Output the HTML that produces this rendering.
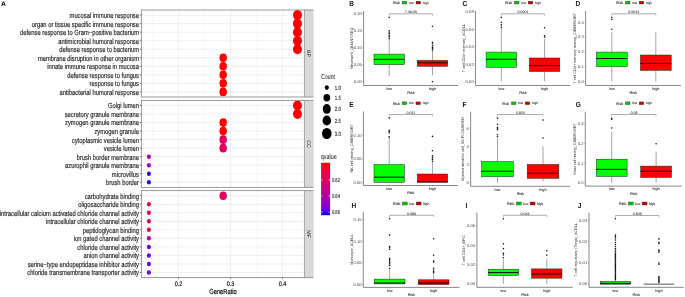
<!DOCTYPE html>
<html><head><meta charset="utf-8"><title>Figure</title>
<style>html,body{margin:0;padding:0;background:#fff;width:685px;height:297px;overflow:hidden}svg{display:block}</style>
</head><body>
<svg width="685" height="297" viewBox="0 0 685 297" text-rendering="geometricPrecision"><g font-family="'Liberation Sans', sans-serif">
<text transform="translate(0.90,6.00) scale(0.1050,0.1000)" font-size="64.00" fill="#000" font-weight="bold">A</text>
<rect x="141.40" y="10.00" width="163.00" height="87.00" fill="#FFFFFF"/>
<line x1="152.60" y1="10.00" x2="152.60" y2="97.00" stroke="#F2F2F2" stroke-width="0.50"/>
<line x1="204.60" y1="10.00" x2="204.60" y2="97.00" stroke="#F2F2F2" stroke-width="0.50"/>
<line x1="256.60" y1="10.00" x2="256.60" y2="97.00" stroke="#F2F2F2" stroke-width="0.50"/>
<line x1="178.60" y1="10.00" x2="178.60" y2="97.00" stroke="#EBEBEB" stroke-width="0.80"/>
<line x1="230.60" y1="10.00" x2="230.60" y2="97.00" stroke="#EBEBEB" stroke-width="0.80"/>
<line x1="282.60" y1="10.00" x2="282.60" y2="97.00" stroke="#EBEBEB" stroke-width="0.80"/>
<line x1="141.40" y1="15.12" x2="304.40" y2="15.12" stroke="#EBEBEB" stroke-width="0.80"/>
<line x1="141.40" y1="23.65" x2="304.40" y2="23.65" stroke="#EBEBEB" stroke-width="0.80"/>
<line x1="141.40" y1="32.18" x2="304.40" y2="32.18" stroke="#EBEBEB" stroke-width="0.80"/>
<line x1="141.40" y1="40.71" x2="304.40" y2="40.71" stroke="#EBEBEB" stroke-width="0.80"/>
<line x1="141.40" y1="49.24" x2="304.40" y2="49.24" stroke="#EBEBEB" stroke-width="0.80"/>
<line x1="141.40" y1="57.76" x2="304.40" y2="57.76" stroke="#EBEBEB" stroke-width="0.80"/>
<line x1="141.40" y1="66.29" x2="304.40" y2="66.29" stroke="#EBEBEB" stroke-width="0.80"/>
<line x1="141.40" y1="74.82" x2="304.40" y2="74.82" stroke="#EBEBEB" stroke-width="0.80"/>
<line x1="141.40" y1="83.35" x2="304.40" y2="83.35" stroke="#EBEBEB" stroke-width="0.80"/>
<line x1="141.40" y1="91.88" x2="304.40" y2="91.88" stroke="#EBEBEB" stroke-width="0.80"/>
<ellipse cx="297.46" cy="15.12" rx="4.50" ry="5.00" fill="#FF0000"/>
<ellipse cx="297.46" cy="23.65" rx="4.50" ry="5.00" fill="#FF0000"/>
<ellipse cx="297.46" cy="32.18" rx="4.50" ry="5.00" fill="#FF0000"/>
<ellipse cx="297.46" cy="40.71" rx="4.50" ry="5.00" fill="#FF0000"/>
<ellipse cx="297.46" cy="49.24" rx="4.50" ry="5.00" fill="#FF0000"/>
<ellipse cx="223.17" cy="57.76" rx="3.70" ry="4.30" fill="#FF0000"/>
<ellipse cx="223.17" cy="66.29" rx="3.70" ry="4.30" fill="#FF0000"/>
<ellipse cx="223.17" cy="74.82" rx="3.70" ry="4.30" fill="#FF0000"/>
<ellipse cx="223.17" cy="83.35" rx="3.70" ry="4.30" fill="#FF0000"/>
<ellipse cx="223.17" cy="91.88" rx="3.70" ry="4.30" fill="#FF0000"/>
<rect x="141.40" y="10.00" width="163.00" height="87.00" fill="none" stroke="#909090" stroke-width="0.9"/>
<rect x="304.85" y="9.55" width="8.60" height="87.90" fill="#D9D9D9"/>
<line x1="313.40" y1="9.55" x2="313.40" y2="97.45" stroke="#E2E2E2" stroke-width="0.60"/>
<line x1="304.40" y1="10.00" x2="313.40" y2="10.00" stroke="#909090" stroke-width="0.90"/>
<line x1="304.40" y1="97.00" x2="313.40" y2="97.00" stroke="#909090" stroke-width="0.90"/>
<text transform="translate(307.40,53.50) scale(0.1000,0.1000) rotate(90)" font-size="52.00" fill="#1A1A1A" text-anchor="middle">BP</text>
<line x1="139.80" y1="15.12" x2="141.40" y2="15.12" stroke="#333" stroke-width="0.60"/>
<text transform="translate(139.00,18.02) scale(0.0775,0.1000)" font-size="75.00" fill="#262626" text-anchor="end" stroke="#262626" stroke-width="1.80">mucosal immune response</text>
<line x1="139.80" y1="23.65" x2="141.40" y2="23.65" stroke="#333" stroke-width="0.60"/>
<text transform="translate(139.00,26.55) scale(0.0775,0.1000)" font-size="75.00" fill="#262626" text-anchor="end" stroke="#262626" stroke-width="1.80">organ or tissue specific immune response</text>
<line x1="139.80" y1="32.18" x2="141.40" y2="32.18" stroke="#333" stroke-width="0.60"/>
<text transform="translate(139.00,35.08) scale(0.0775,0.1000)" font-size="75.00" fill="#262626" text-anchor="end" stroke="#262626" stroke-width="1.80">defense response to Gram−positive bacterium</text>
<line x1="139.80" y1="40.71" x2="141.40" y2="40.71" stroke="#333" stroke-width="0.60"/>
<text transform="translate(139.00,43.61) scale(0.0775,0.1000)" font-size="75.00" fill="#262626" text-anchor="end" stroke="#262626" stroke-width="1.80">antimicrobial humoral response</text>
<line x1="139.80" y1="49.24" x2="141.40" y2="49.24" stroke="#333" stroke-width="0.60"/>
<text transform="translate(139.00,52.14) scale(0.0775,0.1000)" font-size="75.00" fill="#262626" text-anchor="end" stroke="#262626" stroke-width="1.80">defense response to bacterium</text>
<line x1="139.80" y1="57.76" x2="141.40" y2="57.76" stroke="#333" stroke-width="0.60"/>
<text transform="translate(139.00,60.66) scale(0.0775,0.1000)" font-size="75.00" fill="#262626" text-anchor="end" stroke="#262626" stroke-width="1.80">membrane disruption in other organism</text>
<line x1="139.80" y1="66.29" x2="141.40" y2="66.29" stroke="#333" stroke-width="0.60"/>
<text transform="translate(139.00,69.19) scale(0.0775,0.1000)" font-size="75.00" fill="#262626" text-anchor="end" stroke="#262626" stroke-width="1.80">innate immune response in mucosa</text>
<line x1="139.80" y1="74.82" x2="141.40" y2="74.82" stroke="#333" stroke-width="0.60"/>
<text transform="translate(139.00,77.72) scale(0.0775,0.1000)" font-size="75.00" fill="#262626" text-anchor="end" stroke="#262626" stroke-width="1.80">defense response to fungus</text>
<line x1="139.80" y1="83.35" x2="141.40" y2="83.35" stroke="#333" stroke-width="0.60"/>
<text transform="translate(139.00,86.25) scale(0.0775,0.1000)" font-size="75.00" fill="#262626" text-anchor="end" stroke="#262626" stroke-width="1.80">response to fungus</text>
<line x1="139.80" y1="91.88" x2="141.40" y2="91.88" stroke="#333" stroke-width="0.60"/>
<text transform="translate(139.00,94.78) scale(0.0775,0.1000)" font-size="75.00" fill="#262626" text-anchor="end" stroke="#262626" stroke-width="1.80">antibacterial humoral response</text>
<rect x="141.40" y="100.40" width="163.00" height="87.00" fill="#FFFFFF"/>
<line x1="152.60" y1="100.40" x2="152.60" y2="187.40" stroke="#F2F2F2" stroke-width="0.50"/>
<line x1="204.60" y1="100.40" x2="204.60" y2="187.40" stroke="#F2F2F2" stroke-width="0.50"/>
<line x1="256.60" y1="100.40" x2="256.60" y2="187.40" stroke="#F2F2F2" stroke-width="0.50"/>
<line x1="178.60" y1="100.40" x2="178.60" y2="187.40" stroke="#EBEBEB" stroke-width="0.80"/>
<line x1="230.60" y1="100.40" x2="230.60" y2="187.40" stroke="#EBEBEB" stroke-width="0.80"/>
<line x1="282.60" y1="100.40" x2="282.60" y2="187.40" stroke="#EBEBEB" stroke-width="0.80"/>
<line x1="141.40" y1="105.52" x2="304.40" y2="105.52" stroke="#EBEBEB" stroke-width="0.80"/>
<line x1="141.40" y1="114.05" x2="304.40" y2="114.05" stroke="#EBEBEB" stroke-width="0.80"/>
<line x1="141.40" y1="122.58" x2="304.40" y2="122.58" stroke="#EBEBEB" stroke-width="0.80"/>
<line x1="141.40" y1="131.11" x2="304.40" y2="131.11" stroke="#EBEBEB" stroke-width="0.80"/>
<line x1="141.40" y1="139.64" x2="304.40" y2="139.64" stroke="#EBEBEB" stroke-width="0.80"/>
<line x1="141.40" y1="148.16" x2="304.40" y2="148.16" stroke="#EBEBEB" stroke-width="0.80"/>
<line x1="141.40" y1="156.69" x2="304.40" y2="156.69" stroke="#EBEBEB" stroke-width="0.80"/>
<line x1="141.40" y1="165.22" x2="304.40" y2="165.22" stroke="#EBEBEB" stroke-width="0.80"/>
<line x1="141.40" y1="173.75" x2="304.40" y2="173.75" stroke="#EBEBEB" stroke-width="0.80"/>
<line x1="141.40" y1="182.28" x2="304.40" y2="182.28" stroke="#EBEBEB" stroke-width="0.80"/>
<ellipse cx="297.46" cy="105.52" rx="4.50" ry="5.00" fill="#FF0000"/>
<ellipse cx="297.46" cy="114.05" rx="4.50" ry="5.00" fill="#FF0000"/>
<ellipse cx="223.17" cy="122.58" rx="3.70" ry="4.30" fill="#FF0000"/>
<ellipse cx="223.17" cy="131.11" rx="3.70" ry="4.30" fill="#FF0000"/>
<ellipse cx="223.17" cy="139.64" rx="3.70" ry="4.30" fill="#E3005B"/>
<ellipse cx="223.17" cy="148.16" rx="3.70" ry="4.30" fill="#E3005B"/>
<ellipse cx="148.89" cy="156.69" rx="2.00" ry="2.25" fill="#A600B7"/>
<ellipse cx="148.89" cy="165.22" rx="2.00" ry="2.25" fill="#A600B7"/>
<ellipse cx="148.89" cy="173.75" rx="2.00" ry="2.25" fill="#2F00FA"/>
<ellipse cx="148.89" cy="182.28" rx="2.00" ry="2.25" fill="#2F00FA"/>
<rect x="141.40" y="100.40" width="163.00" height="87.00" fill="none" stroke="#909090" stroke-width="0.9"/>
<rect x="304.85" y="99.95" width="8.60" height="87.90" fill="#D9D9D9"/>
<line x1="313.40" y1="99.95" x2="313.40" y2="187.85" stroke="#E2E2E2" stroke-width="0.60"/>
<line x1="304.40" y1="100.40" x2="313.40" y2="100.40" stroke="#909090" stroke-width="0.90"/>
<line x1="304.40" y1="187.40" x2="313.40" y2="187.40" stroke="#909090" stroke-width="0.90"/>
<text transform="translate(307.40,143.90) scale(0.1000,0.1000) rotate(90)" font-size="52.00" fill="#1A1A1A" text-anchor="middle">CC</text>
<line x1="139.80" y1="105.52" x2="141.40" y2="105.52" stroke="#333" stroke-width="0.60"/>
<text transform="translate(139.00,108.42) scale(0.0775,0.1000)" font-size="75.00" fill="#262626" text-anchor="end" stroke="#262626" stroke-width="1.80">Golgi lumen</text>
<line x1="139.80" y1="114.05" x2="141.40" y2="114.05" stroke="#333" stroke-width="0.60"/>
<text transform="translate(139.00,116.95) scale(0.0775,0.1000)" font-size="75.00" fill="#262626" text-anchor="end" stroke="#262626" stroke-width="1.80">secretory granule membrane</text>
<line x1="139.80" y1="122.58" x2="141.40" y2="122.58" stroke="#333" stroke-width="0.60"/>
<text transform="translate(139.00,125.48) scale(0.0775,0.1000)" font-size="75.00" fill="#262626" text-anchor="end" stroke="#262626" stroke-width="1.80">zymogen granule membrane</text>
<line x1="139.80" y1="131.11" x2="141.40" y2="131.11" stroke="#333" stroke-width="0.60"/>
<text transform="translate(139.00,134.01) scale(0.0775,0.1000)" font-size="75.00" fill="#262626" text-anchor="end" stroke="#262626" stroke-width="1.80">zymogen granule</text>
<line x1="139.80" y1="139.64" x2="141.40" y2="139.64" stroke="#333" stroke-width="0.60"/>
<text transform="translate(139.00,142.54) scale(0.0775,0.1000)" font-size="75.00" fill="#262626" text-anchor="end" stroke="#262626" stroke-width="1.80">cytoplasmic vesicle lumen</text>
<line x1="139.80" y1="148.16" x2="141.40" y2="148.16" stroke="#333" stroke-width="0.60"/>
<text transform="translate(139.00,151.06) scale(0.0775,0.1000)" font-size="75.00" fill="#262626" text-anchor="end" stroke="#262626" stroke-width="1.80">vesicle lumen</text>
<line x1="139.80" y1="156.69" x2="141.40" y2="156.69" stroke="#333" stroke-width="0.60"/>
<text transform="translate(139.00,159.59) scale(0.0775,0.1000)" font-size="75.00" fill="#262626" text-anchor="end" stroke="#262626" stroke-width="1.80">brush border membrane</text>
<line x1="139.80" y1="165.22" x2="141.40" y2="165.22" stroke="#333" stroke-width="0.60"/>
<text transform="translate(139.00,168.12) scale(0.0775,0.1000)" font-size="75.00" fill="#262626" text-anchor="end" stroke="#262626" stroke-width="1.80">azurophil granule membrane</text>
<line x1="139.80" y1="173.75" x2="141.40" y2="173.75" stroke="#333" stroke-width="0.60"/>
<text transform="translate(139.00,176.65) scale(0.0775,0.1000)" font-size="75.00" fill="#262626" text-anchor="end" stroke="#262626" stroke-width="1.80">microvillus</text>
<line x1="139.80" y1="182.28" x2="141.40" y2="182.28" stroke="#333" stroke-width="0.60"/>
<text transform="translate(139.00,185.18) scale(0.0775,0.1000)" font-size="75.00" fill="#262626" text-anchor="end" stroke="#262626" stroke-width="1.80">brush border</text>
<rect x="141.40" y="190.60" width="163.00" height="87.00" fill="#FFFFFF"/>
<line x1="152.60" y1="190.60" x2="152.60" y2="277.60" stroke="#F2F2F2" stroke-width="0.50"/>
<line x1="204.60" y1="190.60" x2="204.60" y2="277.60" stroke="#F2F2F2" stroke-width="0.50"/>
<line x1="256.60" y1="190.60" x2="256.60" y2="277.60" stroke="#F2F2F2" stroke-width="0.50"/>
<line x1="178.60" y1="190.60" x2="178.60" y2="277.60" stroke="#EBEBEB" stroke-width="0.80"/>
<line x1="230.60" y1="190.60" x2="230.60" y2="277.60" stroke="#EBEBEB" stroke-width="0.80"/>
<line x1="282.60" y1="190.60" x2="282.60" y2="277.60" stroke="#EBEBEB" stroke-width="0.80"/>
<line x1="141.40" y1="195.72" x2="304.40" y2="195.72" stroke="#EBEBEB" stroke-width="0.80"/>
<line x1="141.40" y1="204.25" x2="304.40" y2="204.25" stroke="#EBEBEB" stroke-width="0.80"/>
<line x1="141.40" y1="212.78" x2="304.40" y2="212.78" stroke="#EBEBEB" stroke-width="0.80"/>
<line x1="141.40" y1="221.31" x2="304.40" y2="221.31" stroke="#EBEBEB" stroke-width="0.80"/>
<line x1="141.40" y1="229.84" x2="304.40" y2="229.84" stroke="#EBEBEB" stroke-width="0.80"/>
<line x1="141.40" y1="238.36" x2="304.40" y2="238.36" stroke="#EBEBEB" stroke-width="0.80"/>
<line x1="141.40" y1="246.89" x2="304.40" y2="246.89" stroke="#EBEBEB" stroke-width="0.80"/>
<line x1="141.40" y1="255.42" x2="304.40" y2="255.42" stroke="#EBEBEB" stroke-width="0.80"/>
<line x1="141.40" y1="263.95" x2="304.40" y2="263.95" stroke="#EBEBEB" stroke-width="0.80"/>
<line x1="141.40" y1="272.48" x2="304.40" y2="272.48" stroke="#EBEBEB" stroke-width="0.80"/>
<ellipse cx="223.17" cy="195.72" rx="3.70" ry="4.30" fill="#E3005B"/>
<ellipse cx="148.89" cy="204.25" rx="2.00" ry="2.25" fill="#E3005B"/>
<ellipse cx="148.89" cy="212.78" rx="2.00" ry="2.25" fill="#E3005B"/>
<ellipse cx="148.89" cy="221.31" rx="2.00" ry="2.25" fill="#E3005B"/>
<ellipse cx="148.89" cy="229.84" rx="2.00" ry="2.25" fill="#E3005B"/>
<ellipse cx="148.89" cy="238.36" rx="2.00" ry="2.25" fill="#B600A4"/>
<ellipse cx="148.89" cy="246.89" rx="2.00" ry="2.25" fill="#6800E7"/>
<ellipse cx="148.89" cy="255.42" rx="2.00" ry="2.25" fill="#6800E7"/>
<ellipse cx="148.89" cy="263.95" rx="2.00" ry="2.25" fill="#6800E7"/>
<ellipse cx="148.89" cy="272.48" rx="2.00" ry="2.25" fill="#6800E7"/>
<rect x="141.40" y="190.60" width="163.00" height="87.00" fill="none" stroke="#909090" stroke-width="0.9"/>
<rect x="304.85" y="190.15" width="8.60" height="87.90" fill="#D9D9D9"/>
<line x1="313.40" y1="190.15" x2="313.40" y2="278.05" stroke="#E2E2E2" stroke-width="0.60"/>
<line x1="304.40" y1="190.60" x2="313.40" y2="190.60" stroke="#909090" stroke-width="0.90"/>
<line x1="304.40" y1="277.60" x2="313.40" y2="277.60" stroke="#909090" stroke-width="0.90"/>
<text transform="translate(307.40,234.10) scale(0.1000,0.1000) rotate(90)" font-size="52.00" fill="#1A1A1A" text-anchor="middle">MF</text>
<line x1="139.80" y1="195.72" x2="141.40" y2="195.72" stroke="#333" stroke-width="0.60"/>
<text transform="translate(139.00,198.62) scale(0.0775,0.1000)" font-size="75.00" fill="#262626" text-anchor="end" stroke="#262626" stroke-width="1.80">carbohydrate binding</text>
<line x1="139.80" y1="204.25" x2="141.40" y2="204.25" stroke="#333" stroke-width="0.60"/>
<text transform="translate(139.00,207.15) scale(0.0775,0.1000)" font-size="75.00" fill="#262626" text-anchor="end" stroke="#262626" stroke-width="1.80">oligosaccharide binding</text>
<line x1="139.80" y1="212.78" x2="141.40" y2="212.78" stroke="#333" stroke-width="0.60"/>
<text transform="translate(139.00,215.68) scale(0.0775,0.1000)" font-size="75.00" fill="#262626" text-anchor="end" stroke="#262626" stroke-width="1.80">intracellular calcium activated chloride channel activity</text>
<line x1="139.80" y1="221.31" x2="141.40" y2="221.31" stroke="#333" stroke-width="0.60"/>
<text transform="translate(139.00,224.21) scale(0.0775,0.1000)" font-size="75.00" fill="#262626" text-anchor="end" stroke="#262626" stroke-width="1.80">intracellular chloride channel activity</text>
<line x1="139.80" y1="229.84" x2="141.40" y2="229.84" stroke="#333" stroke-width="0.60"/>
<text transform="translate(139.00,232.74) scale(0.0775,0.1000)" font-size="75.00" fill="#262626" text-anchor="end" stroke="#262626" stroke-width="1.80">peptidoglycan binding</text>
<line x1="139.80" y1="238.36" x2="141.40" y2="238.36" stroke="#333" stroke-width="0.60"/>
<text transform="translate(139.00,241.26) scale(0.0775,0.1000)" font-size="75.00" fill="#262626" text-anchor="end" stroke="#262626" stroke-width="1.80">ion gated channel activity</text>
<line x1="139.80" y1="246.89" x2="141.40" y2="246.89" stroke="#333" stroke-width="0.60"/>
<text transform="translate(139.00,249.79) scale(0.0775,0.1000)" font-size="75.00" fill="#262626" text-anchor="end" stroke="#262626" stroke-width="1.80">chloride channel activity</text>
<line x1="139.80" y1="255.42" x2="141.40" y2="255.42" stroke="#333" stroke-width="0.60"/>
<text transform="translate(139.00,258.32) scale(0.0775,0.1000)" font-size="75.00" fill="#262626" text-anchor="end" stroke="#262626" stroke-width="1.80">anion channel activity</text>
<line x1="139.80" y1="263.95" x2="141.40" y2="263.95" stroke="#333" stroke-width="0.60"/>
<text transform="translate(139.00,266.85) scale(0.0775,0.1000)" font-size="75.00" fill="#262626" text-anchor="end" stroke="#262626" stroke-width="1.80">serine−type endopeptidase inhibitor activity</text>
<line x1="139.80" y1="272.48" x2="141.40" y2="272.48" stroke="#333" stroke-width="0.60"/>
<text transform="translate(139.00,275.38) scale(0.0775,0.1000)" font-size="75.00" fill="#262626" text-anchor="end" stroke="#262626" stroke-width="1.80">chloride transmembrane transporter activity</text>
<line x1="178.60" y1="277.60" x2="178.60" y2="279.20" stroke="#333" stroke-width="0.60"/>
<text transform="translate(178.60,286.20) scale(0.0840,0.1000)" font-size="66.00" fill="#222" text-anchor="middle" stroke="#222" stroke-width="2.20">0.2</text>
<line x1="230.60" y1="277.60" x2="230.60" y2="279.20" stroke="#333" stroke-width="0.60"/>
<text transform="translate(230.60,286.20) scale(0.0840,0.1000)" font-size="66.00" fill="#222" text-anchor="middle" stroke="#222" stroke-width="2.20">0.3</text>
<line x1="282.60" y1="277.60" x2="282.60" y2="279.20" stroke="#333" stroke-width="0.60"/>
<text transform="translate(282.60,286.20) scale(0.0840,0.1000)" font-size="66.00" fill="#222" text-anchor="middle" stroke="#222" stroke-width="2.20">0.4</text>
<text transform="translate(223.00,294.10) scale(0.0790,0.1000)" font-size="73.00" fill="#111" text-anchor="middle" stroke="#111" stroke-width="2.20">GeneRatio</text>
<text transform="translate(321.30,78.90) scale(0.0720,0.1000)" font-size="71.00" fill="#1A1A1A" stroke="#1A1A1A" stroke-width="0.40">Count</text>
<ellipse cx="326.80" cy="87.60" rx="2.05" ry="2.35" fill="#000"/>
<text transform="translate(334.80,89.75) scale(0.0740,0.1000)" font-size="60.00" fill="#262626" stroke="#262626" stroke-width="1.20">1.0</text>
<ellipse cx="326.80" cy="97.80" rx="3.35" ry="3.75" fill="#000"/>
<text transform="translate(334.80,99.95) scale(0.0740,0.1000)" font-size="60.00" fill="#262626" stroke="#262626" stroke-width="1.20">1.5</text>
<ellipse cx="326.80" cy="108.90" rx="4.00" ry="4.95" fill="#000"/>
<text transform="translate(334.80,111.05) scale(0.0740,0.1000)" font-size="60.00" fill="#262626" stroke="#262626" stroke-width="1.20">2.0</text>
<ellipse cx="326.80" cy="120.50" rx="4.25" ry="5.05" fill="#000"/>
<text transform="translate(334.80,122.65) scale(0.0740,0.1000)" font-size="60.00" fill="#262626" stroke="#262626" stroke-width="1.20">2.5</text>
<ellipse cx="326.80" cy="133.50" rx="4.75" ry="5.55" fill="#000"/>
<text transform="translate(334.80,135.65) scale(0.0740,0.1000)" font-size="60.00" fill="#262626" stroke="#262626" stroke-width="1.20">3.0</text>
<text transform="translate(320.80,158.90) scale(0.0760,0.1000)" font-size="71.00" fill="#1A1A1A" stroke="#1A1A1A" stroke-width="0.40">qvalue</text>
<defs><linearGradient id="qg" x1="0" y1="0" x2="0" y2="1"><stop offset="0.00" stop-color="#FF0000"/><stop offset="0.10" stop-color="#F6002A"/><stop offset="0.20" stop-color="#ED0044"/><stop offset="0.30" stop-color="#E3005B"/><stop offset="0.40" stop-color="#D70072"/><stop offset="0.50" stop-color="#CA0088"/><stop offset="0.60" stop-color="#BA009F"/><stop offset="0.70" stop-color="#A600B7"/><stop offset="0.80" stop-color="#8D00CE"/><stop offset="0.90" stop-color="#6800E7"/><stop offset="1.00" stop-color="#0000FF"/></linearGradient></defs>
<rect x="321.10" y="162.80" width="9.00" height="52.40" fill="url(#qg)"/>
<line x1="321.10" y1="179.80" x2="322.90" y2="179.80" stroke="#FFFFFF" stroke-width="0.50"/>
<line x1="328.30" y1="179.80" x2="330.10" y2="179.80" stroke="#FFFFFF" stroke-width="0.50"/>
<text transform="translate(331.90,181.90) scale(0.0700,0.1000)" font-size="59.00" fill="#262626" stroke="#262626" stroke-width="1.20">0.82</text>
<line x1="321.10" y1="195.90" x2="322.90" y2="195.90" stroke="#FFFFFF" stroke-width="0.50"/>
<line x1="328.30" y1="195.90" x2="330.10" y2="195.90" stroke="#FFFFFF" stroke-width="0.50"/>
<text transform="translate(331.90,198.00) scale(0.0700,0.1000)" font-size="59.00" fill="#262626" stroke="#262626" stroke-width="1.20">0.84</text>
<line x1="321.10" y1="212.10" x2="322.90" y2="212.10" stroke="#FFFFFF" stroke-width="0.50"/>
<line x1="328.30" y1="212.10" x2="330.10" y2="212.10" stroke="#FFFFFF" stroke-width="0.50"/>
<text transform="translate(331.90,214.20) scale(0.0700,0.1000)" font-size="59.00" fill="#262626" stroke="#262626" stroke-width="1.20">0.86</text>
</g>
<g font-family="'Liberation Sans', sans-serif">
<text transform="translate(349.30,6.10) scale(0.0900,0.1000)" font-size="73.00" fill="#111" font-weight="bold">B</text>
<text transform="translate(392.80,3.90) scale(0.0970,0.1000)" font-size="37.00" fill="#222" stroke="#222" stroke-width="0.70">Risk</text>
<rect x="402.20" y="1.20" width="4.60" height="2.80" fill="#00C800" stroke="#333" stroke-width="0.35"/>
<text transform="translate(409.20,3.70) scale(0.1000,0.1000)" font-size="31.00" fill="#222" stroke="#222" stroke-width="0.70">low</text>
<rect x="416.00" y="1.20" width="4.60" height="2.80" fill="#C80000" stroke="#333" stroke-width="0.35"/>
<text transform="translate(422.80,3.70) scale(0.1000,0.1000)" font-size="31.00" fill="#222" stroke="#222" stroke-width="0.70">high</text>
<text transform="translate(352.90,48.25) scale(0.1000,0.1000) rotate(-90)" font-size="37.50" fill="#222" text-anchor="middle">Neutrophil_QUANTISEQ</text>
<line x1="363.60" y1="11.00" x2="363.60" y2="85.50" stroke="#7A7A7A" stroke-width="0.90"/>
<line x1="363.60" y1="85.50" x2="458.20" y2="85.50" stroke="#7A7A7A" stroke-width="0.90"/>
<line x1="362.60" y1="81.60" x2="363.60" y2="81.60" stroke="#666" stroke-width="0.50"/>
<text transform="translate(361.80,83.10) scale(0.1000,0.1000)" font-size="41.50" fill="#444" text-anchor="end">0.00</text>
<line x1="362.60" y1="64.60" x2="363.60" y2="64.60" stroke="#666" stroke-width="0.50"/>
<text transform="translate(361.80,66.10) scale(0.1000,0.1000)" font-size="41.50" fill="#444" text-anchor="end">0.05</text>
<line x1="362.60" y1="47.60" x2="363.60" y2="47.60" stroke="#666" stroke-width="0.50"/>
<text transform="translate(361.80,49.10) scale(0.1000,0.1000)" font-size="41.50" fill="#444" text-anchor="end">0.10</text>
<line x1="362.60" y1="30.60" x2="363.60" y2="30.60" stroke="#666" stroke-width="0.50"/>
<text transform="translate(361.80,32.10) scale(0.1000,0.1000)" font-size="41.50" fill="#444" text-anchor="end">0.15</text>
<line x1="362.60" y1="13.60" x2="363.60" y2="13.60" stroke="#666" stroke-width="0.50"/>
<text transform="translate(361.80,15.10) scale(0.1000,0.1000)" font-size="41.50" fill="#444" text-anchor="end">0.20</text>
<line x1="389.20" y1="85.50" x2="389.20" y2="86.50" stroke="#666" stroke-width="0.50"/>
<text transform="translate(389.20,89.70) scale(0.1000,0.1000)" font-size="38.50" fill="#333" text-anchor="middle" stroke="#333" stroke-width="0.60">low</text>
<line x1="432.50" y1="85.50" x2="432.50" y2="86.50" stroke="#666" stroke-width="0.50"/>
<text transform="translate(432.50,89.70) scale(0.1000,0.1000)" font-size="38.50" fill="#333" text-anchor="middle" stroke="#333" stroke-width="0.60">high</text>
<text transform="translate(410.90,93.90) scale(0.1000,0.1000)" font-size="38.00" fill="#222" text-anchor="middle" stroke="#222" stroke-width="0.60">Risk</text>
<line x1="389.20" y1="13.80" x2="432.50" y2="13.80" stroke="#8A8A8A" stroke-width="0.70"/>
<line x1="389.20" y1="13.80" x2="389.20" y2="15.60" stroke="#8A8A8A" stroke-width="0.60"/>
<line x1="432.50" y1="13.80" x2="432.50" y2="15.60" stroke="#8A8A8A" stroke-width="0.60"/>
<text transform="translate(410.85,13.40) scale(0.1000,0.1000)" font-size="36.00" fill="#333" text-anchor="middle" stroke="#333" stroke-width="0.70">7.4e-05</text>
<line x1="389.20" y1="38.60" x2="389.20" y2="54.10" stroke="#333" stroke-width="0.45"/>
<line x1="389.20" y1="64.70" x2="389.20" y2="76.10" stroke="#333" stroke-width="0.45"/>
<rect x="374.00" y="54.10" width="30.40" height="10.60" fill="#00FF00" stroke="#222" stroke-width="0.50"/>
<line x1="374.00" y1="59.40" x2="404.40" y2="59.40" stroke="#111" stroke-width="1.05"/>
<ellipse cx="389.20" cy="17.20" rx="0.80" ry="0.80" fill="#111"/>
<ellipse cx="389.20" cy="30.70" rx="0.80" ry="0.80" fill="#111"/>
<ellipse cx="389.20" cy="32.20" rx="0.80" ry="0.80" fill="#111"/>
<ellipse cx="389.20" cy="33.80" rx="0.80" ry="0.80" fill="#111"/>
<ellipse cx="389.20" cy="35.30" rx="0.80" ry="0.80" fill="#111"/>
<ellipse cx="389.20" cy="36.80" rx="0.80" ry="0.80" fill="#111"/>
<ellipse cx="389.20" cy="38.20" rx="0.80" ry="0.80" fill="#111"/>
<line x1="432.50" y1="50.40" x2="432.50" y2="60.30" stroke="#333" stroke-width="0.45"/>
<line x1="432.50" y1="66.30" x2="432.50" y2="75.40" stroke="#333" stroke-width="0.45"/>
<rect x="417.30" y="60.30" width="30.40" height="6.00" fill="#FF0000" stroke="#222" stroke-width="0.50"/>
<line x1="417.30" y1="62.80" x2="447.70" y2="62.80" stroke="#111" stroke-width="1.05"/>
<ellipse cx="432.50" cy="26.30" rx="0.80" ry="0.80" fill="#111"/>
<ellipse cx="432.50" cy="42.30" rx="0.80" ry="0.80" fill="#111"/>
<ellipse cx="432.50" cy="43.80" rx="0.80" ry="0.80" fill="#111"/>
<ellipse cx="432.50" cy="45.70" rx="0.80" ry="0.80" fill="#111"/>
<ellipse cx="432.50" cy="47.40" rx="0.80" ry="0.80" fill="#111"/>
<ellipse cx="432.50" cy="48.60" rx="0.80" ry="0.80" fill="#111"/>
<ellipse cx="432.50" cy="50.00" rx="0.80" ry="0.80" fill="#111"/>
<ellipse cx="432.50" cy="81.80" rx="0.80" ry="0.80" fill="#111"/>
</g>
<g font-family="'Liberation Sans', sans-serif">
<text transform="translate(462.40,6.10) scale(0.0900,0.1000)" font-size="73.00" fill="#111" font-weight="bold">C</text>
<text transform="translate(505.00,3.90) scale(0.0970,0.1000)" font-size="37.00" fill="#222" stroke="#222" stroke-width="0.70">Risk</text>
<rect x="514.40" y="1.20" width="4.60" height="2.80" fill="#00C800" stroke="#333" stroke-width="0.35"/>
<text transform="translate(521.40,3.70) scale(0.1000,0.1000)" font-size="31.00" fill="#222" stroke="#222" stroke-width="0.70">low</text>
<rect x="528.20" y="1.20" width="4.60" height="2.80" fill="#C80000" stroke="#333" stroke-width="0.35"/>
<text transform="translate(535.00,3.70) scale(0.1000,0.1000)" font-size="31.00" fill="#222" stroke="#222" stroke-width="0.70">high</text>
<text transform="translate(464.60,48.25) scale(0.1000,0.1000) rotate(-90)" font-size="37.50" fill="#222" text-anchor="middle">T cell CD4+ memory_XCELL</text>
<line x1="475.50" y1="11.00" x2="475.50" y2="85.50" stroke="#7A7A7A" stroke-width="0.90"/>
<line x1="475.50" y1="85.50" x2="570.30" y2="85.50" stroke="#7A7A7A" stroke-width="0.90"/>
<line x1="474.50" y1="81.80" x2="475.50" y2="81.80" stroke="#666" stroke-width="0.50"/>
<text transform="translate(473.70,83.30) scale(0.1000,0.1000)" font-size="41.50" fill="#444" text-anchor="end">0.00</text>
<line x1="474.50" y1="64.30" x2="475.50" y2="64.30" stroke="#666" stroke-width="0.50"/>
<text transform="translate(473.70,65.80) scale(0.1000,0.1000)" font-size="41.50" fill="#444" text-anchor="end">0.02</text>
<line x1="474.50" y1="46.80" x2="475.50" y2="46.80" stroke="#666" stroke-width="0.50"/>
<text transform="translate(473.70,48.30) scale(0.1000,0.1000)" font-size="41.50" fill="#444" text-anchor="end">0.04</text>
<line x1="474.50" y1="29.30" x2="475.50" y2="29.30" stroke="#666" stroke-width="0.50"/>
<text transform="translate(473.70,30.80) scale(0.1000,0.1000)" font-size="41.50" fill="#444" text-anchor="end">0.06</text>
<line x1="474.50" y1="11.80" x2="475.50" y2="11.80" stroke="#666" stroke-width="0.50"/>
<text transform="translate(473.70,13.30) scale(0.1000,0.1000)" font-size="41.50" fill="#444" text-anchor="end">0.08</text>
<line x1="501.30" y1="85.50" x2="501.30" y2="86.50" stroke="#666" stroke-width="0.50"/>
<text transform="translate(501.30,89.70) scale(0.1000,0.1000)" font-size="38.50" fill="#333" text-anchor="middle" stroke="#333" stroke-width="0.60">low</text>
<line x1="544.60" y1="85.50" x2="544.60" y2="86.50" stroke="#666" stroke-width="0.50"/>
<text transform="translate(544.60,89.70) scale(0.1000,0.1000)" font-size="38.50" fill="#333" text-anchor="middle" stroke="#333" stroke-width="0.60">high</text>
<text transform="translate(522.90,93.90) scale(0.1000,0.1000)" font-size="38.00" fill="#222" text-anchor="middle" stroke="#222" stroke-width="0.60">Risk</text>
<line x1="501.30" y1="13.80" x2="544.60" y2="13.80" stroke="#8A8A8A" stroke-width="0.70"/>
<line x1="501.30" y1="13.80" x2="501.30" y2="15.60" stroke="#8A8A8A" stroke-width="0.60"/>
<line x1="544.60" y1="13.80" x2="544.60" y2="15.60" stroke="#8A8A8A" stroke-width="0.60"/>
<text transform="translate(522.95,13.40) scale(0.1000,0.1000)" font-size="36.00" fill="#333" text-anchor="middle" stroke="#333" stroke-width="0.70">0.0001</text>
<line x1="501.30" y1="28.00" x2="501.30" y2="52.10" stroke="#333" stroke-width="0.45"/>
<line x1="501.30" y1="67.30" x2="501.30" y2="81.30" stroke="#333" stroke-width="0.45"/>
<rect x="486.10" y="52.10" width="30.40" height="15.20" fill="#00FF00" stroke="#222" stroke-width="0.50"/>
<line x1="486.10" y1="59.30" x2="516.50" y2="59.30" stroke="#111" stroke-width="1.05"/>
<ellipse cx="501.30" cy="17.20" rx="0.80" ry="0.80" fill="#111"/>
<ellipse cx="501.30" cy="22.20" rx="0.80" ry="0.80" fill="#111"/>
<ellipse cx="501.30" cy="24.90" rx="0.80" ry="0.80" fill="#111"/>
<ellipse cx="501.30" cy="27.30" rx="0.80" ry="0.80" fill="#111"/>
<line x1="544.60" y1="39.10" x2="544.60" y2="58.00" stroke="#333" stroke-width="0.45"/>
<line x1="544.60" y1="71.50" x2="544.60" y2="81.30" stroke="#333" stroke-width="0.45"/>
<rect x="529.40" y="58.00" width="30.40" height="13.50" fill="#FF0000" stroke="#222" stroke-width="0.50"/>
<line x1="529.40" y1="65.60" x2="559.80" y2="65.60" stroke="#111" stroke-width="1.05"/>
<ellipse cx="544.60" cy="27.80" rx="0.80" ry="0.80" fill="#111"/>
<ellipse cx="544.60" cy="35.80" rx="0.80" ry="0.80" fill="#111"/>
<ellipse cx="544.60" cy="37.10" rx="0.80" ry="0.80" fill="#111"/>
</g>
<g font-family="'Liberation Sans', sans-serif">
<text transform="translate(575.60,6.10) scale(0.0900,0.1000)" font-size="73.00" fill="#111" font-weight="bold">D</text>
<text transform="translate(616.00,3.90) scale(0.0970,0.1000)" font-size="37.00" fill="#222" stroke="#222" stroke-width="0.70">Risk</text>
<rect x="625.40" y="1.20" width="4.60" height="2.80" fill="#00C800" stroke="#333" stroke-width="0.35"/>
<text transform="translate(632.40,3.70) scale(0.1000,0.1000)" font-size="31.00" fill="#222" stroke="#222" stroke-width="0.70">low</text>
<rect x="639.20" y="1.20" width="4.60" height="2.80" fill="#C80000" stroke="#333" stroke-width="0.35"/>
<text transform="translate(646.00,3.70) scale(0.1000,0.1000)" font-size="31.00" fill="#222" stroke="#222" stroke-width="0.70">high</text>
<text transform="translate(575.60,48.25) scale(0.1000,0.1000) rotate(-90)" font-size="37.50" fill="#222" text-anchor="middle">T cell CD4+ memory resting_CIBERSORT</text>
<line x1="585.60" y1="11.00" x2="585.60" y2="85.50" stroke="#7A7A7A" stroke-width="0.90"/>
<line x1="585.60" y1="85.50" x2="681.00" y2="85.50" stroke="#7A7A7A" stroke-width="0.90"/>
<line x1="584.60" y1="81.50" x2="585.60" y2="81.50" stroke="#666" stroke-width="0.50"/>
<text transform="translate(583.80,83.00) scale(0.1000,0.1000)" font-size="41.50" fill="#444" text-anchor="end">0.0</text>
<line x1="584.60" y1="66.65" x2="585.60" y2="66.65" stroke="#666" stroke-width="0.50"/>
<text transform="translate(583.80,68.15) scale(0.1000,0.1000)" font-size="41.50" fill="#444" text-anchor="end">0.1</text>
<line x1="584.60" y1="51.80" x2="585.60" y2="51.80" stroke="#666" stroke-width="0.50"/>
<text transform="translate(583.80,53.30) scale(0.1000,0.1000)" font-size="41.50" fill="#444" text-anchor="end">0.2</text>
<line x1="584.60" y1="36.95" x2="585.60" y2="36.95" stroke="#666" stroke-width="0.50"/>
<text transform="translate(583.80,38.45) scale(0.1000,0.1000)" font-size="41.50" fill="#444" text-anchor="end">0.3</text>
<line x1="584.60" y1="22.10" x2="585.60" y2="22.10" stroke="#666" stroke-width="0.50"/>
<text transform="translate(583.80,23.60) scale(0.1000,0.1000)" font-size="41.50" fill="#444" text-anchor="end">0.4</text>
<line x1="611.80" y1="85.50" x2="611.80" y2="86.50" stroke="#666" stroke-width="0.50"/>
<text transform="translate(611.80,89.70) scale(0.1000,0.1000)" font-size="38.50" fill="#333" text-anchor="middle" stroke="#333" stroke-width="0.60">low</text>
<line x1="655.80" y1="85.50" x2="655.80" y2="86.50" stroke="#666" stroke-width="0.50"/>
<text transform="translate(655.80,89.70) scale(0.1000,0.1000)" font-size="38.50" fill="#333" text-anchor="middle" stroke="#333" stroke-width="0.60">high</text>
<text transform="translate(633.30,93.90) scale(0.1000,0.1000)" font-size="38.00" fill="#222" text-anchor="middle" stroke="#222" stroke-width="0.60">Risk</text>
<line x1="611.80" y1="13.80" x2="655.80" y2="13.80" stroke="#8A8A8A" stroke-width="0.70"/>
<line x1="611.80" y1="13.80" x2="611.80" y2="15.60" stroke="#8A8A8A" stroke-width="0.60"/>
<line x1="655.80" y1="13.80" x2="655.80" y2="15.60" stroke="#8A8A8A" stroke-width="0.60"/>
<text transform="translate(633.80,13.40) scale(0.1000,0.1000)" font-size="36.00" fill="#333" text-anchor="middle" stroke="#333" stroke-width="0.70">0.0014</text>
<line x1="611.80" y1="32.00" x2="611.80" y2="52.10" stroke="#333" stroke-width="0.45"/>
<line x1="611.80" y1="66.60" x2="611.80" y2="81.30" stroke="#333" stroke-width="0.45"/>
<rect x="596.40" y="52.10" width="30.80" height="14.50" fill="#00FF00" stroke="#222" stroke-width="0.50"/>
<line x1="596.40" y1="58.50" x2="627.20" y2="58.50" stroke="#111" stroke-width="1.05"/>
<ellipse cx="611.80" cy="17.20" rx="0.80" ry="0.80" fill="#111"/>
<ellipse cx="611.80" cy="19.40" rx="0.80" ry="0.80" fill="#111"/>
<ellipse cx="611.80" cy="29.20" rx="0.80" ry="0.80" fill="#111"/>
<line x1="655.80" y1="32.20" x2="655.80" y2="55.00" stroke="#333" stroke-width="0.45"/>
<line x1="655.80" y1="70.40" x2="655.80" y2="81.60" stroke="#333" stroke-width="0.45"/>
<rect x="640.40" y="55.00" width="30.80" height="15.40" fill="#FF0000" stroke="#222" stroke-width="0.50"/>
<line x1="640.40" y1="63.40" x2="671.20" y2="63.40" stroke="#111" stroke-width="1.05"/>
</g>
<g font-family="'Liberation Sans', sans-serif">
<text transform="translate(349.30,106.90) scale(0.0900,0.1000)" font-size="73.00" fill="#111" font-weight="bold">E</text>
<text transform="translate(392.70,104.60) scale(0.0970,0.1000)" font-size="37.00" fill="#222" stroke="#222" stroke-width="0.70">Risk</text>
<rect x="402.10" y="101.90" width="4.60" height="2.80" fill="#00C800" stroke="#333" stroke-width="0.35"/>
<text transform="translate(409.10,104.40) scale(0.1000,0.1000)" font-size="31.00" fill="#222" stroke="#222" stroke-width="0.70">low</text>
<rect x="415.90" y="101.90" width="4.60" height="2.80" fill="#C80000" stroke="#333" stroke-width="0.35"/>
<text transform="translate(422.70,104.40) scale(0.1000,0.1000)" font-size="31.00" fill="#222" stroke="#222" stroke-width="0.70">high</text>
<text transform="translate(352.90,148.40) scale(0.1000,0.1000) rotate(-90)" font-size="37.50" fill="#222" text-anchor="middle">NK cell resting_CIBERSORT</text>
<line x1="363.40" y1="111.30" x2="363.40" y2="185.50" stroke="#7A7A7A" stroke-width="0.90"/>
<line x1="363.40" y1="185.50" x2="457.90" y2="185.50" stroke="#7A7A7A" stroke-width="0.90"/>
<line x1="362.40" y1="182.40" x2="363.40" y2="182.40" stroke="#666" stroke-width="0.50"/>
<text transform="translate(361.60,183.90) scale(0.1000,0.1000)" font-size="41.50" fill="#444" text-anchor="end">0.00</text>
<line x1="362.40" y1="158.80" x2="363.40" y2="158.80" stroke="#666" stroke-width="0.50"/>
<text transform="translate(361.60,160.30) scale(0.1000,0.1000)" font-size="41.50" fill="#444" text-anchor="end">0.05</text>
<line x1="362.40" y1="135.30" x2="363.40" y2="135.30" stroke="#666" stroke-width="0.50"/>
<text transform="translate(361.60,136.80) scale(0.1000,0.1000)" font-size="41.50" fill="#444" text-anchor="end">0.10</text>
<line x1="389.20" y1="185.50" x2="389.20" y2="186.50" stroke="#666" stroke-width="0.50"/>
<text transform="translate(389.20,189.70) scale(0.1000,0.1000)" font-size="38.50" fill="#333" text-anchor="middle" stroke="#333" stroke-width="0.60">low</text>
<line x1="432.50" y1="185.50" x2="432.50" y2="186.50" stroke="#666" stroke-width="0.50"/>
<text transform="translate(432.50,189.70) scale(0.1000,0.1000)" font-size="38.50" fill="#333" text-anchor="middle" stroke="#333" stroke-width="0.60">high</text>
<text transform="translate(410.65,193.90) scale(0.1000,0.1000)" font-size="38.00" fill="#222" text-anchor="middle" stroke="#222" stroke-width="0.60">Risk</text>
<line x1="389.20" y1="114.50" x2="432.50" y2="114.50" stroke="#8A8A8A" stroke-width="0.70"/>
<line x1="389.20" y1="114.50" x2="389.20" y2="116.30" stroke="#8A8A8A" stroke-width="0.60"/>
<line x1="432.50" y1="114.50" x2="432.50" y2="116.30" stroke="#8A8A8A" stroke-width="0.60"/>
<text transform="translate(410.85,114.10) scale(0.1000,0.1000)" font-size="36.00" fill="#333" text-anchor="middle" stroke="#333" stroke-width="0.70">0.011</text>
<line x1="389.20" y1="137.00" x2="389.20" y2="164.60" stroke="#333" stroke-width="0.45"/>
<line x1="389.20" y1="182.40" x2="389.20" y2="182.40" stroke="#333" stroke-width="0.45"/>
<rect x="374.00" y="164.60" width="30.40" height="17.80" fill="#00FF00" stroke="#222" stroke-width="0.50"/>
<line x1="374.00" y1="177.20" x2="404.40" y2="177.20" stroke="#111" stroke-width="1.05"/>
<ellipse cx="389.20" cy="117.90" rx="0.80" ry="0.80" fill="#111"/>
<ellipse cx="389.20" cy="130.20" rx="0.80" ry="0.80" fill="#111"/>
<ellipse cx="389.20" cy="131.50" rx="0.80" ry="0.80" fill="#111"/>
<ellipse cx="389.20" cy="132.80" rx="0.80" ry="0.80" fill="#111"/>
<ellipse cx="389.20" cy="136.90" rx="0.80" ry="0.80" fill="#111"/>
<line x1="432.50" y1="162.30" x2="432.50" y2="174.00" stroke="#333" stroke-width="0.45"/>
<line x1="432.50" y1="182.40" x2="432.50" y2="182.40" stroke="#333" stroke-width="0.45"/>
<rect x="417.30" y="174.00" width="30.40" height="8.40" fill="#FF0000" stroke="#222" stroke-width="0.50"/>
<line x1="417.30" y1="181.60" x2="447.70" y2="181.60" stroke="#111" stroke-width="1.05"/>
<ellipse cx="432.50" cy="136.40" rx="0.80" ry="0.80" fill="#111"/>
<ellipse cx="432.50" cy="150.80" rx="0.80" ry="0.80" fill="#111"/>
<ellipse cx="432.50" cy="155.90" rx="0.80" ry="0.80" fill="#111"/>
<ellipse cx="432.50" cy="157.80" rx="0.80" ry="0.80" fill="#111"/>
<ellipse cx="432.50" cy="159.40" rx="0.80" ry="0.80" fill="#111"/>
<ellipse cx="432.50" cy="161.20" rx="0.80" ry="0.80" fill="#111"/>
</g>
<g font-family="'Liberation Sans', sans-serif">
<text transform="translate(462.60,106.70) scale(0.0900,0.1000)" font-size="73.00" fill="#111" font-weight="bold">F</text>
<text transform="translate(502.00,104.60) scale(0.0970,0.1000)" font-size="37.00" fill="#222" stroke="#222" stroke-width="0.70">Risk</text>
<rect x="511.40" y="101.90" width="4.60" height="2.80" fill="#00C800" stroke="#333" stroke-width="0.35"/>
<text transform="translate(518.40,104.40) scale(0.1000,0.1000)" font-size="31.00" fill="#222" stroke="#222" stroke-width="0.70">low</text>
<rect x="525.20" y="101.90" width="4.60" height="2.80" fill="#C80000" stroke="#333" stroke-width="0.35"/>
<text transform="translate(532.00,104.40) scale(0.1000,0.1000)" font-size="31.00" fill="#222" stroke="#222" stroke-width="0.70">high</text>
<text transform="translate(464.40,149.05) scale(0.1000,0.1000) rotate(-90)" font-size="37.50" fill="#222" text-anchor="middle">Myeloid dendritic cell_MCPCOUNTER</text>
<line x1="470.60" y1="111.80" x2="470.60" y2="186.30" stroke="#7A7A7A" stroke-width="0.90"/>
<line x1="470.60" y1="186.30" x2="570.30" y2="186.30" stroke="#7A7A7A" stroke-width="0.90"/>
<line x1="469.60" y1="182.20" x2="470.60" y2="182.20" stroke="#666" stroke-width="0.50"/>
<text transform="translate(468.80,183.70) scale(0.1000,0.1000)" font-size="41.50" fill="#444" text-anchor="end">0</text>
<line x1="469.60" y1="164.20" x2="470.60" y2="164.20" stroke="#666" stroke-width="0.50"/>
<text transform="translate(468.80,165.70) scale(0.1000,0.1000)" font-size="41.50" fill="#444" text-anchor="end">2</text>
<line x1="469.60" y1="146.20" x2="470.60" y2="146.20" stroke="#666" stroke-width="0.50"/>
<text transform="translate(468.80,147.70) scale(0.1000,0.1000)" font-size="41.50" fill="#444" text-anchor="end">4</text>
<line x1="469.60" y1="128.20" x2="470.60" y2="128.20" stroke="#666" stroke-width="0.50"/>
<text transform="translate(468.80,129.70) scale(0.1000,0.1000)" font-size="41.50" fill="#444" text-anchor="end">6</text>
<line x1="497.50" y1="186.30" x2="497.50" y2="187.30" stroke="#666" stroke-width="0.50"/>
<text transform="translate(497.50,190.50) scale(0.1000,0.1000)" font-size="38.50" fill="#333" text-anchor="middle" stroke="#333" stroke-width="0.60">low</text>
<line x1="543.00" y1="186.30" x2="543.00" y2="187.30" stroke="#666" stroke-width="0.50"/>
<text transform="translate(543.00,190.50) scale(0.1000,0.1000)" font-size="38.50" fill="#333" text-anchor="middle" stroke="#333" stroke-width="0.60">high</text>
<text transform="translate(520.45,194.70) scale(0.1000,0.1000)" font-size="38.00" fill="#222" text-anchor="middle" stroke="#222" stroke-width="0.60">Risk</text>
<line x1="497.50" y1="114.50" x2="543.00" y2="114.50" stroke="#8A8A8A" stroke-width="0.70"/>
<line x1="497.50" y1="114.50" x2="497.50" y2="116.30" stroke="#8A8A8A" stroke-width="0.60"/>
<line x1="543.00" y1="114.50" x2="543.00" y2="116.30" stroke="#8A8A8A" stroke-width="0.60"/>
<text transform="translate(520.25,114.10) scale(0.1000,0.1000)" font-size="36.00" fill="#333" text-anchor="middle" stroke="#333" stroke-width="0.70">0.924</text>
<line x1="497.50" y1="138.50" x2="497.50" y2="161.60" stroke="#333" stroke-width="0.45"/>
<line x1="497.50" y1="176.80" x2="497.50" y2="182.80" stroke="#333" stroke-width="0.45"/>
<rect x="481.70" y="161.60" width="31.60" height="15.20" fill="#00FF00" stroke="#222" stroke-width="0.50"/>
<line x1="481.70" y1="171.20" x2="513.30" y2="171.20" stroke="#111" stroke-width="1.05"/>
<ellipse cx="497.50" cy="118.10" rx="0.80" ry="0.80" fill="#111"/>
<ellipse cx="497.50" cy="124.30" rx="0.80" ry="0.80" fill="#111"/>
<ellipse cx="497.50" cy="127.40" rx="0.80" ry="0.80" fill="#111"/>
<ellipse cx="497.50" cy="128.70" rx="0.80" ry="0.80" fill="#111"/>
<ellipse cx="497.50" cy="129.80" rx="0.80" ry="0.80" fill="#111"/>
<ellipse cx="497.50" cy="134.80" rx="0.80" ry="0.80" fill="#111"/>
<ellipse cx="497.50" cy="136.70" rx="0.80" ry="0.80" fill="#111"/>
<line x1="543.00" y1="146.30" x2="543.00" y2="164.40" stroke="#333" stroke-width="0.45"/>
<line x1="543.00" y1="178.40" x2="543.00" y2="181.30" stroke="#333" stroke-width="0.45"/>
<rect x="527.20" y="164.40" width="31.60" height="14.00" fill="#FF0000" stroke="#222" stroke-width="0.50"/>
<line x1="527.20" y1="173.20" x2="558.80" y2="173.20" stroke="#111" stroke-width="1.05"/>
<ellipse cx="543.00" cy="120.00" rx="0.80" ry="0.80" fill="#111"/>
<ellipse cx="543.00" cy="138.00" rx="0.80" ry="0.80" fill="#111"/>
</g>
<g font-family="'Liberation Sans', sans-serif">
<text transform="translate(575.70,106.90) scale(0.0900,0.1000)" font-size="73.00" fill="#111" font-weight="bold">G</text>
<text transform="translate(616.00,104.60) scale(0.0970,0.1000)" font-size="37.00" fill="#222" stroke="#222" stroke-width="0.70">Risk</text>
<rect x="625.40" y="101.90" width="4.60" height="2.80" fill="#00C800" stroke="#333" stroke-width="0.35"/>
<text transform="translate(632.40,104.40) scale(0.1000,0.1000)" font-size="31.00" fill="#222" stroke="#222" stroke-width="0.70">low</text>
<rect x="639.20" y="101.90" width="4.60" height="2.80" fill="#C80000" stroke="#333" stroke-width="0.35"/>
<text transform="translate(646.00,104.40) scale(0.1000,0.1000)" font-size="31.00" fill="#222" stroke="#222" stroke-width="0.70">high</text>
<text transform="translate(575.60,148.90) scale(0.1000,0.1000) rotate(-90)" font-size="37.50" fill="#222" text-anchor="middle">Mast cell resting_CIBERSORT</text>
<line x1="585.30" y1="111.70" x2="585.30" y2="186.10" stroke="#7A7A7A" stroke-width="0.90"/>
<line x1="585.30" y1="186.10" x2="681.90" y2="186.10" stroke="#7A7A7A" stroke-width="0.90"/>
<line x1="584.30" y1="182.60" x2="585.30" y2="182.60" stroke="#666" stroke-width="0.50"/>
<text transform="translate(583.50,184.10) scale(0.1000,0.1000)" font-size="41.50" fill="#444" text-anchor="end">0.0</text>
<line x1="584.30" y1="163.00" x2="585.30" y2="163.00" stroke="#666" stroke-width="0.50"/>
<text transform="translate(583.50,164.50) scale(0.1000,0.1000)" font-size="41.50" fill="#444" text-anchor="end">0.1</text>
<line x1="584.30" y1="143.40" x2="585.30" y2="143.40" stroke="#666" stroke-width="0.50"/>
<text transform="translate(583.50,144.90) scale(0.1000,0.1000)" font-size="41.50" fill="#444" text-anchor="end">0.2</text>
<line x1="584.30" y1="123.80" x2="585.30" y2="123.80" stroke="#666" stroke-width="0.50"/>
<text transform="translate(583.50,125.30) scale(0.1000,0.1000)" font-size="41.50" fill="#444" text-anchor="end">0.3</text>
<line x1="611.70" y1="186.10" x2="611.70" y2="187.10" stroke="#666" stroke-width="0.50"/>
<text transform="translate(611.70,190.30) scale(0.1000,0.1000)" font-size="38.50" fill="#333" text-anchor="middle" stroke="#333" stroke-width="0.60">low</text>
<line x1="656.10" y1="186.10" x2="656.10" y2="187.10" stroke="#666" stroke-width="0.50"/>
<text transform="translate(656.10,190.30) scale(0.1000,0.1000)" font-size="38.50" fill="#333" text-anchor="middle" stroke="#333" stroke-width="0.60">high</text>
<text transform="translate(633.60,194.50) scale(0.1000,0.1000)" font-size="38.00" fill="#222" text-anchor="middle" stroke="#222" stroke-width="0.60">Risk</text>
<line x1="611.70" y1="114.50" x2="656.10" y2="114.50" stroke="#8A8A8A" stroke-width="0.70"/>
<line x1="611.70" y1="114.50" x2="611.70" y2="116.30" stroke="#8A8A8A" stroke-width="0.60"/>
<line x1="656.10" y1="114.50" x2="656.10" y2="116.30" stroke="#8A8A8A" stroke-width="0.60"/>
<text transform="translate(633.90,114.10) scale(0.1000,0.1000)" font-size="36.00" fill="#333" text-anchor="middle" stroke="#333" stroke-width="0.70">0.03</text>
<line x1="611.70" y1="132.00" x2="611.70" y2="159.20" stroke="#333" stroke-width="0.45"/>
<line x1="611.70" y1="176.50" x2="611.70" y2="182.80" stroke="#333" stroke-width="0.45"/>
<rect x="596.30" y="159.20" width="30.80" height="17.30" fill="#00FF00" stroke="#222" stroke-width="0.50"/>
<line x1="596.30" y1="169.40" x2="627.10" y2="169.40" stroke="#111" stroke-width="1.05"/>
<ellipse cx="611.70" cy="118.30" rx="0.80" ry="0.80" fill="#111"/>
<ellipse cx="611.70" cy="119.30" rx="0.80" ry="0.80" fill="#111"/>
<ellipse cx="611.70" cy="128.00" rx="0.80" ry="0.80" fill="#111"/>
<line x1="656.10" y1="151.70" x2="656.10" y2="166.10" stroke="#333" stroke-width="0.45"/>
<line x1="656.10" y1="177.50" x2="656.10" y2="182.60" stroke="#333" stroke-width="0.45"/>
<rect x="640.70" y="166.10" width="30.80" height="11.40" fill="#FF0000" stroke="#222" stroke-width="0.50"/>
<line x1="640.70" y1="171.30" x2="671.50" y2="171.30" stroke="#111" stroke-width="1.05"/>
<ellipse cx="656.10" cy="143.80" rx="0.80" ry="0.80" fill="#111"/>
</g>
<g font-family="'Liberation Sans', sans-serif">
<text transform="translate(351.40,207.90) scale(0.0900,0.1000)" font-size="73.00" fill="#111" font-weight="bold">H</text>
<text transform="translate(393.00,204.89) scale(0.0970,0.1000)" font-size="39.59" fill="#222" stroke="#222" stroke-width="0.70">Risk</text>
<rect x="402.40" y="202.00" width="4.92" height="3.00" fill="#00C800" stroke="#333" stroke-width="0.35"/>
<text transform="translate(409.40,204.68) scale(0.1000,0.1000)" font-size="33.17" fill="#222" stroke="#222" stroke-width="0.70">low</text>
<rect x="416.20" y="202.00" width="4.92" height="3.00" fill="#C80000" stroke="#333" stroke-width="0.35"/>
<text transform="translate(423.00,204.68) scale(0.1000,0.1000)" font-size="33.17" fill="#222" stroke="#222" stroke-width="0.70">high</text>
<text transform="translate(352.90,249.60) scale(0.1000,0.1000) rotate(-90)" font-size="37.50" fill="#222" text-anchor="middle">Monocyte_XCELL</text>
<line x1="363.30" y1="211.80" x2="363.30" y2="287.40" stroke="#7A7A7A" stroke-width="0.90"/>
<line x1="363.30" y1="287.40" x2="459.50" y2="287.40" stroke="#7A7A7A" stroke-width="0.90"/>
<line x1="362.30" y1="284.30" x2="363.30" y2="284.30" stroke="#666" stroke-width="0.50"/>
<text transform="translate(361.50,285.80) scale(0.1000,0.1000)" font-size="41.50" fill="#444" text-anchor="end">0.00</text>
<line x1="362.30" y1="262.70" x2="363.30" y2="262.70" stroke="#666" stroke-width="0.50"/>
<text transform="translate(361.50,264.20) scale(0.1000,0.1000)" font-size="41.50" fill="#444" text-anchor="end">0.05</text>
<line x1="362.30" y1="241.10" x2="363.30" y2="241.10" stroke="#666" stroke-width="0.50"/>
<text transform="translate(361.50,242.60) scale(0.1000,0.1000)" font-size="41.50" fill="#444" text-anchor="end">0.10</text>
<line x1="362.30" y1="219.50" x2="363.30" y2="219.50" stroke="#666" stroke-width="0.50"/>
<text transform="translate(361.50,221.00) scale(0.1000,0.1000)" font-size="41.50" fill="#444" text-anchor="end">0.15</text>
<line x1="389.60" y1="287.40" x2="389.60" y2="288.40" stroke="#666" stroke-width="0.50"/>
<text transform="translate(389.60,291.60) scale(0.1000,0.1000)" font-size="38.50" fill="#333" text-anchor="middle" stroke="#333" stroke-width="0.60">low</text>
<line x1="433.60" y1="287.40" x2="433.60" y2="288.40" stroke="#666" stroke-width="0.50"/>
<text transform="translate(433.60,291.60) scale(0.1000,0.1000)" font-size="38.50" fill="#333" text-anchor="middle" stroke="#333" stroke-width="0.60">high</text>
<text transform="translate(411.40,295.80) scale(0.1000,0.1000)" font-size="38.00" fill="#222" text-anchor="middle" stroke="#222" stroke-width="0.60">Risk</text>
<line x1="389.60" y1="215.30" x2="433.60" y2="215.30" stroke="#8A8A8A" stroke-width="0.70"/>
<line x1="389.60" y1="215.30" x2="389.60" y2="217.10" stroke="#8A8A8A" stroke-width="0.60"/>
<line x1="433.60" y1="215.30" x2="433.60" y2="217.10" stroke="#8A8A8A" stroke-width="0.60"/>
<text transform="translate(411.60,214.90) scale(0.1000,0.1000)" font-size="36.00" fill="#333" text-anchor="middle" stroke="#333" stroke-width="0.70">0.036</text>
<line x1="389.60" y1="270.00" x2="389.60" y2="279.10" stroke="#333" stroke-width="0.45"/>
<line x1="389.60" y1="283.90" x2="389.60" y2="284.30" stroke="#333" stroke-width="0.45"/>
<rect x="374.20" y="279.10" width="30.80" height="4.80" fill="#00FF00" stroke="#222" stroke-width="0.50"/>
<line x1="374.20" y1="283.00" x2="405.00" y2="283.00" stroke="#111" stroke-width="1.05"/>
<ellipse cx="389.60" cy="218.70" rx="0.80" ry="0.80" fill="#111"/>
<ellipse cx="389.60" cy="234.90" rx="0.80" ry="0.80" fill="#111"/>
<ellipse cx="389.60" cy="246.50" rx="0.80" ry="0.80" fill="#111"/>
<ellipse cx="389.60" cy="247.70" rx="0.80" ry="0.80" fill="#111"/>
<ellipse cx="389.60" cy="249.20" rx="0.80" ry="0.80" fill="#111"/>
<ellipse cx="389.60" cy="258.30" rx="0.80" ry="0.80" fill="#111"/>
<ellipse cx="389.60" cy="259.40" rx="0.80" ry="0.80" fill="#111"/>
<ellipse cx="389.60" cy="260.90" rx="0.80" ry="0.80" fill="#111"/>
<ellipse cx="389.60" cy="262.40" rx="0.80" ry="0.80" fill="#111"/>
<ellipse cx="389.60" cy="263.90" rx="0.80" ry="0.80" fill="#111"/>
<ellipse cx="389.60" cy="265.50" rx="0.80" ry="0.80" fill="#111"/>
<ellipse cx="389.60" cy="268.50" rx="0.80" ry="0.80" fill="#111"/>
<line x1="433.60" y1="274.60" x2="433.60" y2="279.80" stroke="#333" stroke-width="0.45"/>
<line x1="433.60" y1="284.60" x2="433.60" y2="284.60" stroke="#333" stroke-width="0.45"/>
<rect x="418.20" y="279.80" width="30.80" height="4.80" fill="#FF0000" stroke="#222" stroke-width="0.50"/>
<line x1="418.20" y1="283.00" x2="449.00" y2="283.00" stroke="#111" stroke-width="1.05"/>
<ellipse cx="433.60" cy="238.80" rx="0.80" ry="0.80" fill="#111"/>
<ellipse cx="433.60" cy="255.20" rx="0.80" ry="0.80" fill="#111"/>
<ellipse cx="433.60" cy="261.00" rx="0.80" ry="0.80" fill="#111"/>
<ellipse cx="433.60" cy="262.10" rx="0.80" ry="0.80" fill="#111"/>
<ellipse cx="433.60" cy="268.30" rx="0.80" ry="0.80" fill="#111"/>
<ellipse cx="433.60" cy="270.00" rx="0.80" ry="0.80" fill="#111"/>
<ellipse cx="433.60" cy="271.50" rx="0.80" ry="0.80" fill="#111"/>
<ellipse cx="433.60" cy="272.90" rx="0.80" ry="0.80" fill="#111"/>
</g>
<g font-family="'Liberation Sans', sans-serif">
<text transform="translate(465.40,207.80) scale(0.0900,0.1000)" font-size="73.00" fill="#111" font-weight="bold">I</text>
<text transform="translate(506.90,204.89) scale(0.0970,0.1000)" font-size="39.59" fill="#222" stroke="#222" stroke-width="0.70">Risk</text>
<rect x="516.30" y="202.00" width="4.92" height="3.00" fill="#00C800" stroke="#333" stroke-width="0.35"/>
<text transform="translate(523.30,204.68) scale(0.1000,0.1000)" font-size="33.17" fill="#222" stroke="#222" stroke-width="0.70">low</text>
<rect x="530.10" y="202.00" width="4.92" height="3.00" fill="#C80000" stroke="#333" stroke-width="0.35"/>
<text transform="translate(536.90,204.68) scale(0.1000,0.1000)" font-size="33.17" fill="#222" stroke="#222" stroke-width="0.70">high</text>
<text transform="translate(465.00,249.95) scale(0.1000,0.1000) rotate(-90)" font-size="37.50" fill="#222" text-anchor="middle">T cell CD4+_EPIC</text>
<line x1="476.90" y1="212.60" x2="476.90" y2="287.30" stroke="#7A7A7A" stroke-width="0.90"/>
<line x1="476.90" y1="287.30" x2="572.80" y2="287.30" stroke="#7A7A7A" stroke-width="0.90"/>
<line x1="475.90" y1="283.80" x2="476.90" y2="283.80" stroke="#666" stroke-width="0.50"/>
<text transform="translate(475.10,285.30) scale(0.1000,0.1000)" font-size="41.50" fill="#444" text-anchor="end">0.00</text>
<line x1="475.90" y1="264.50" x2="476.90" y2="264.50" stroke="#666" stroke-width="0.50"/>
<text transform="translate(475.10,266.00) scale(0.1000,0.1000)" font-size="41.50" fill="#444" text-anchor="end">0.02</text>
<line x1="475.90" y1="245.20" x2="476.90" y2="245.20" stroke="#666" stroke-width="0.50"/>
<text transform="translate(475.10,246.70) scale(0.1000,0.1000)" font-size="41.50" fill="#444" text-anchor="end">0.04</text>
<line x1="475.90" y1="225.90" x2="476.90" y2="225.90" stroke="#666" stroke-width="0.50"/>
<text transform="translate(475.10,227.40) scale(0.1000,0.1000)" font-size="41.50" fill="#444" text-anchor="end">0.06</text>
<line x1="503.40" y1="287.30" x2="503.40" y2="288.30" stroke="#666" stroke-width="0.50"/>
<text transform="translate(503.40,291.50) scale(0.1000,0.1000)" font-size="38.50" fill="#333" text-anchor="middle" stroke="#333" stroke-width="0.60">low</text>
<line x1="546.80" y1="287.30" x2="546.80" y2="288.30" stroke="#666" stroke-width="0.50"/>
<text transform="translate(546.80,291.50) scale(0.1000,0.1000)" font-size="38.50" fill="#333" text-anchor="middle" stroke="#333" stroke-width="0.60">high</text>
<text transform="translate(524.85,295.70) scale(0.1000,0.1000)" font-size="38.00" fill="#222" text-anchor="middle" stroke="#222" stroke-width="0.60">Risk</text>
<line x1="503.40" y1="215.30" x2="546.80" y2="215.30" stroke="#8A8A8A" stroke-width="0.70"/>
<line x1="503.40" y1="215.30" x2="503.40" y2="217.10" stroke="#8A8A8A" stroke-width="0.60"/>
<line x1="546.80" y1="215.30" x2="546.80" y2="217.10" stroke="#8A8A8A" stroke-width="0.60"/>
<text transform="translate(525.10,214.90) scale(0.1000,0.1000)" font-size="36.00" fill="#333" text-anchor="middle" stroke="#333" stroke-width="0.70">0.044</text>
<line x1="503.40" y1="259.20" x2="503.40" y2="269.20" stroke="#333" stroke-width="0.45"/>
<line x1="503.40" y1="275.50" x2="503.40" y2="283.80" stroke="#333" stroke-width="0.45"/>
<rect x="488.20" y="269.20" width="30.40" height="6.30" fill="#00FF00" stroke="#222" stroke-width="0.50"/>
<line x1="488.20" y1="272.60" x2="518.60" y2="272.60" stroke="#111" stroke-width="1.05"/>
<ellipse cx="503.40" cy="218.70" rx="0.80" ry="0.80" fill="#111"/>
<ellipse cx="503.40" cy="243.80" rx="0.80" ry="0.80" fill="#111"/>
<ellipse cx="503.40" cy="248.60" rx="0.80" ry="0.80" fill="#111"/>
<ellipse cx="503.40" cy="253.40" rx="0.80" ry="0.80" fill="#111"/>
<ellipse cx="503.40" cy="255.00" rx="0.80" ry="0.80" fill="#111"/>
<ellipse cx="503.40" cy="257.70" rx="0.80" ry="0.80" fill="#111"/>
<line x1="546.80" y1="258.60" x2="546.80" y2="268.90" stroke="#333" stroke-width="0.45"/>
<line x1="546.80" y1="278.20" x2="546.80" y2="284.30" stroke="#333" stroke-width="0.45"/>
<rect x="531.60" y="268.90" width="30.40" height="9.30" fill="#FF0000" stroke="#222" stroke-width="0.50"/>
<line x1="531.60" y1="274.00" x2="562.00" y2="274.00" stroke="#111" stroke-width="1.05"/>
<ellipse cx="546.80" cy="250.70" rx="0.80" ry="0.80" fill="#111"/>
<ellipse cx="546.80" cy="255.10" rx="0.80" ry="0.80" fill="#111"/>
</g>
<g font-family="'Liberation Sans', sans-serif">
<text transform="translate(577.80,207.90) scale(0.0900,0.1000)" font-size="73.00" fill="#111" font-weight="bold">J</text>
<text transform="translate(618.90,204.89) scale(0.0970,0.1000)" font-size="39.59" fill="#222" stroke="#222" stroke-width="0.70">Risk</text>
<rect x="628.30" y="202.00" width="4.92" height="3.00" fill="#00C800" stroke="#333" stroke-width="0.35"/>
<text transform="translate(635.30,204.68) scale(0.1000,0.1000)" font-size="33.17" fill="#222" stroke="#222" stroke-width="0.70">low</text>
<rect x="642.10" y="202.00" width="4.92" height="3.00" fill="#C80000" stroke="#333" stroke-width="0.35"/>
<text transform="translate(648.90,204.68) scale(0.1000,0.1000)" font-size="33.17" fill="#222" stroke="#222" stroke-width="0.70">high</text>
<text transform="translate(576.60,249.95) scale(0.1000,0.1000) rotate(-90)" font-size="37.50" fill="#222" text-anchor="middle">T cell regulatory (Tregs)_XCELL</text>
<line x1="589.00" y1="212.60" x2="589.00" y2="287.30" stroke="#7A7A7A" stroke-width="0.90"/>
<line x1="589.00" y1="287.30" x2="683.60" y2="287.30" stroke="#7A7A7A" stroke-width="0.90"/>
<line x1="588.00" y1="283.80" x2="589.00" y2="283.80" stroke="#666" stroke-width="0.50"/>
<text transform="translate(587.20,285.30) scale(0.1000,0.1000)" font-size="41.50" fill="#444" text-anchor="end">0.00</text>
<line x1="588.00" y1="262.60" x2="589.00" y2="262.60" stroke="#666" stroke-width="0.50"/>
<text transform="translate(587.20,264.10) scale(0.1000,0.1000)" font-size="41.50" fill="#444" text-anchor="end">0.01</text>
<line x1="588.00" y1="241.40" x2="589.00" y2="241.40" stroke="#666" stroke-width="0.50"/>
<text transform="translate(587.20,242.90) scale(0.1000,0.1000)" font-size="41.50" fill="#444" text-anchor="end">0.02</text>
<line x1="588.00" y1="220.20" x2="589.00" y2="220.20" stroke="#666" stroke-width="0.50"/>
<text transform="translate(587.20,221.70) scale(0.1000,0.1000)" font-size="41.50" fill="#444" text-anchor="end">0.03</text>
<line x1="615.40" y1="287.30" x2="615.40" y2="288.30" stroke="#666" stroke-width="0.50"/>
<text transform="translate(615.40,291.50) scale(0.1000,0.1000)" font-size="38.50" fill="#333" text-anchor="middle" stroke="#333" stroke-width="0.60">low</text>
<line x1="658.90" y1="287.30" x2="658.90" y2="288.30" stroke="#666" stroke-width="0.50"/>
<text transform="translate(658.90,291.50) scale(0.1000,0.1000)" font-size="38.50" fill="#333" text-anchor="middle" stroke="#333" stroke-width="0.60">high</text>
<text transform="translate(636.30,295.70) scale(0.1000,0.1000)" font-size="38.00" fill="#222" text-anchor="middle" stroke="#222" stroke-width="0.60">Risk</text>
<line x1="615.40" y1="215.50" x2="658.90" y2="215.50" stroke="#8A8A8A" stroke-width="0.70"/>
<line x1="615.40" y1="215.50" x2="615.40" y2="217.30" stroke="#8A8A8A" stroke-width="0.60"/>
<line x1="658.90" y1="215.50" x2="658.90" y2="217.30" stroke="#8A8A8A" stroke-width="0.60"/>
<text transform="translate(637.15,215.10) scale(0.1000,0.1000)" font-size="36.00" fill="#333" text-anchor="middle" stroke="#333" stroke-width="0.70">0.345</text>
<line x1="615.40" y1="280.60" x2="615.40" y2="281.40" stroke="#333" stroke-width="0.45"/>
<line x1="615.40" y1="284.20" x2="615.40" y2="284.20" stroke="#333" stroke-width="0.45"/>
<rect x="600.20" y="281.40" width="30.40" height="2.80" fill="#00FF00" stroke="#222" stroke-width="0.50"/>
<line x1="600.20" y1="283.40" x2="630.60" y2="283.40" stroke="#111" stroke-width="1.05"/>
<ellipse cx="615.40" cy="218.70" rx="0.80" ry="0.80" fill="#111"/>
<ellipse cx="615.40" cy="235.10" rx="0.80" ry="0.80" fill="#111"/>
<ellipse cx="615.40" cy="236.50" rx="0.80" ry="0.80" fill="#111"/>
<ellipse cx="615.40" cy="238.00" rx="0.80" ry="0.80" fill="#111"/>
<ellipse cx="615.40" cy="240.00" rx="0.80" ry="0.80" fill="#111"/>
<ellipse cx="615.40" cy="242.50" rx="0.80" ry="0.80" fill="#111"/>
<ellipse cx="615.40" cy="244.50" rx="0.80" ry="0.80" fill="#111"/>
<ellipse cx="615.40" cy="246.50" rx="0.80" ry="0.80" fill="#111"/>
<ellipse cx="615.40" cy="248.50" rx="0.80" ry="0.80" fill="#111"/>
<ellipse cx="615.40" cy="250.00" rx="0.80" ry="0.80" fill="#111"/>
<ellipse cx="615.40" cy="251.70" rx="0.80" ry="0.80" fill="#111"/>
<ellipse cx="615.40" cy="253.30" rx="0.80" ry="0.80" fill="#111"/>
<ellipse cx="615.40" cy="254.40" rx="0.80" ry="0.80" fill="#111"/>
<ellipse cx="615.40" cy="255.50" rx="0.80" ry="0.80" fill="#111"/>
<ellipse cx="615.40" cy="256.60" rx="0.80" ry="0.80" fill="#111"/>
<ellipse cx="615.40" cy="257.70" rx="0.80" ry="0.80" fill="#111"/>
<ellipse cx="615.40" cy="258.80" rx="0.80" ry="0.80" fill="#111"/>
<ellipse cx="615.40" cy="259.90" rx="0.80" ry="0.80" fill="#111"/>
<ellipse cx="615.40" cy="261.00" rx="0.80" ry="0.80" fill="#111"/>
<ellipse cx="615.40" cy="262.10" rx="0.80" ry="0.80" fill="#111"/>
<ellipse cx="615.40" cy="263.20" rx="0.80" ry="0.80" fill="#111"/>
<ellipse cx="615.40" cy="264.30" rx="0.80" ry="0.80" fill="#111"/>
<ellipse cx="615.40" cy="265.40" rx="0.80" ry="0.80" fill="#111"/>
<ellipse cx="615.40" cy="266.50" rx="0.80" ry="0.80" fill="#111"/>
<ellipse cx="615.40" cy="267.60" rx="0.80" ry="0.80" fill="#111"/>
<ellipse cx="615.40" cy="268.70" rx="0.80" ry="0.80" fill="#111"/>
<ellipse cx="615.40" cy="269.80" rx="0.80" ry="0.80" fill="#111"/>
<ellipse cx="615.40" cy="270.90" rx="0.80" ry="0.80" fill="#111"/>
<ellipse cx="615.40" cy="272.00" rx="0.80" ry="0.80" fill="#111"/>
<ellipse cx="615.40" cy="273.10" rx="0.80" ry="0.80" fill="#111"/>
<ellipse cx="615.40" cy="274.20" rx="0.80" ry="0.80" fill="#111"/>
<ellipse cx="615.40" cy="275.30" rx="0.80" ry="0.80" fill="#111"/>
<ellipse cx="615.40" cy="276.40" rx="0.80" ry="0.80" fill="#111"/>
<ellipse cx="615.40" cy="277.50" rx="0.80" ry="0.80" fill="#111"/>
<ellipse cx="615.40" cy="278.60" rx="0.80" ry="0.80" fill="#111"/>
<ellipse cx="615.40" cy="279.70" rx="0.80" ry="0.80" fill="#111"/>
<line x1="658.90" y1="284.20" x2="658.90" y2="284.20" stroke="#333" stroke-width="0.45"/>
<line x1="658.90" y1="284.20" x2="658.90" y2="284.20" stroke="#333" stroke-width="0.45"/>
<rect x="643.70" y="283.50" width="30.40" height="1.40" fill="#858585"/>
<ellipse cx="658.90" cy="238.90" rx="0.80" ry="0.80" fill="#111"/>
<ellipse cx="658.90" cy="242.20" rx="0.80" ry="0.80" fill="#111"/>
<ellipse cx="658.90" cy="243.40" rx="0.80" ry="0.80" fill="#111"/>
<ellipse cx="658.90" cy="250.00" rx="0.80" ry="0.80" fill="#111"/>
<ellipse cx="658.90" cy="250.90" rx="0.80" ry="0.80" fill="#111"/>
<ellipse cx="658.90" cy="252.20" rx="0.80" ry="0.80" fill="#111"/>
<ellipse cx="658.90" cy="263.00" rx="0.80" ry="0.80" fill="#111"/>
<ellipse cx="658.90" cy="264.30" rx="0.80" ry="0.80" fill="#111"/>
<ellipse cx="658.90" cy="276.50" rx="0.80" ry="0.80" fill="#111"/>
<ellipse cx="658.90" cy="277.50" rx="0.80" ry="0.80" fill="#111"/>
<ellipse cx="658.90" cy="278.50" rx="0.80" ry="0.80" fill="#111"/>
<ellipse cx="658.90" cy="279.50" rx="0.80" ry="0.80" fill="#111"/>
<ellipse cx="658.90" cy="280.50" rx="0.80" ry="0.80" fill="#111"/>
<ellipse cx="658.90" cy="281.50" rx="0.80" ry="0.80" fill="#111"/>
<ellipse cx="658.90" cy="282.50" rx="0.80" ry="0.80" fill="#111"/>
</g></svg>
</body></html>
